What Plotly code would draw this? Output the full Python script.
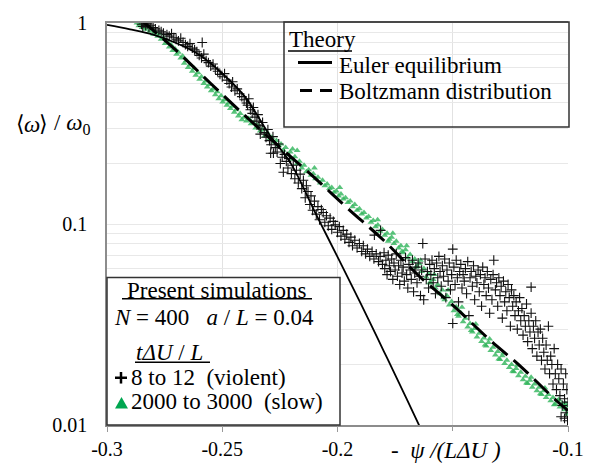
import plotly.graph_objects as go

# ---------------- data ----------------
euler_x = [-0.300, -0.290, -0.280, -0.270, -0.260, -0.250, -0.240, -0.230, -0.220,
           -0.210, -0.200, -0.190, -0.180, -0.170, -0.160]
euler_y = [0.978, 0.930, 0.875, 0.795, 0.695, 0.561, 0.428, 0.283, 0.198,
           0.116, 0.0686, 0.0404, 0.0234, 0.0135, 0.0077]

boltz_x = [-0.285, -0.270, -0.255, -0.240, -0.225, -0.210, -0.195, -0.180, -0.165,
           -0.150, -0.135, -0.120, -0.105, -0.100]
boltz_y = [1.03, 0.73, 0.50, 0.345, 0.241, 0.170, 0.118, 0.083, 0.0556,
           0.0395, 0.0272, 0.0193, 0.0132, 0.0118]

slow_points = [
    (-0.2870, 1.00), (-0.2862, 0.97), (-0.2855, 0.99), (-0.2848, 0.95), (-0.2840, 0.975), (-0.2832, 0.93),
    (-0.2825, 0.955), (-0.2815, 0.91), (-0.2805, 0.935), (-0.2798, 0.88), (-0.2790, 0.905), (-0.2780, 0.86),
    (-0.2772, 0.885), (-0.2765, 0.83), (-0.2755, 0.845), (-0.2748, 0.79), (-0.2740, 0.815), (-0.2730, 0.76),
    (-0.2722, 0.78), (-0.2715, 0.73), (-0.2705, 0.745), (-0.2698, 0.70), (-0.2690, 0.715), (-0.2680, 0.67),
    (-0.2672, 0.685), (-0.2665, 0.63), (-0.2655, 0.65), (-0.2648, 0.60), (-0.2640, 0.62), (-0.2630, 0.575),
    (-0.2622, 0.595), (-0.2615, 0.55), (-0.2605, 0.565), (-0.2598, 0.525), (-0.2590, 0.54), (-0.2580, 0.50),
    (-0.2572, 0.515), (-0.2565, 0.48), (-0.2555, 0.495), (-0.2548, 0.46), (-0.2540, 0.47), (-0.2530, 0.44),
    (-0.2522, 0.455), (-0.2515, 0.42), (-0.2505, 0.435), (-0.2498, 0.405), (-0.2490, 0.415), (-0.2480, 0.39),
    (-0.2472, 0.40), (-0.2465, 0.375), (-0.2455, 0.385), (-0.2448, 0.36), (-0.2440, 0.37), (-0.2430, 0.345),
    (-0.2422, 0.355), (-0.2415, 0.33), (-0.2405, 0.34),
    (-0.2395, 0.325), (-0.2385, 0.335), (-0.2375, 0.315), (-0.2365, 0.32), (-0.2355, 0.30), (-0.2345, 0.31),
    (-0.2335, 0.29), (-0.2325, 0.295), (-0.2315, 0.275), (-0.2305, 0.285), (-0.2295, 0.265), (-0.2285, 0.27),
    (-0.2275, 0.255), (-0.2265, 0.26), (-0.2255, 0.245), (-0.2245, 0.25), (-0.2235, 0.233), (-0.2225, 0.24),
    (-0.2215, 0.222), (-0.2205, 0.228), (-0.2195, 0.21), (-0.2185, 0.216), (-0.2175, 0.20), (-0.2165, 0.205),
    (-0.2155, 0.19), (-0.2145, 0.196), (-0.2135, 0.182), (-0.2125, 0.186), (-0.2115, 0.175), (-0.2105, 0.178),
    (-0.2095, 0.168), (-0.2085, 0.171), (-0.2075, 0.16), (-0.2065, 0.165), (-0.2055, 0.155), (-0.2045, 0.158),
    (-0.2035, 0.15), (-0.2025, 0.152), (-0.2015, 0.144), (-0.2005, 0.146), (-0.1995, 0.138), (-0.1985, 0.141),
    (-0.1975, 0.133), (-0.1965, 0.135), (-0.1955, 0.128), (-0.1945, 0.13), (-0.1935, 0.122), (-0.1925, 0.125),
    (-0.1915, 0.117), (-0.1905, 0.119), (-0.1895, 0.112), (-0.1885, 0.114), (-0.1875, 0.107), (-0.1865, 0.109),
    (-0.1855, 0.102), (-0.1845, 0.104), (-0.1835, 0.097), (-0.1825, 0.099), (-0.1815, 0.092), (-0.1805, 0.094),
    (-0.2175, 0.232), (-0.2195, 0.236), (-0.1990, 0.152), (-0.1826, 0.105), (-0.2100, 0.190),
    (-0.1795, 0.088), (-0.1785, 0.090), (-0.1775, 0.084), (-0.1765, 0.086), (-0.1755, 0.080), (-0.1745, 0.082),
    (-0.1735, 0.076), (-0.1725, 0.078), (-0.1715, 0.072), (-0.1705, 0.0745), (-0.1695, 0.068), (-0.1685, 0.0705),
    (-0.1675, 0.065), (-0.1665, 0.067), (-0.1655, 0.0615), (-0.1645, 0.0635), (-0.1635, 0.058), (-0.1625, 0.060),
    (-0.1615, 0.0545), (-0.1605, 0.0565), (-0.1595, 0.051), (-0.1585, 0.053), (-0.1575, 0.048), (-0.1565, 0.050),
    (-0.1555, 0.045), (-0.1545, 0.047), (-0.1535, 0.042), (-0.1525, 0.044), (-0.1515, 0.0395), (-0.1505, 0.0412),
    (-0.1495, 0.037), (-0.1485, 0.0388), (-0.1475, 0.0348), (-0.1465, 0.0362), (-0.1455, 0.0326), (-0.1445, 0.034),
    (-0.1435, 0.0307), (-0.1425, 0.032), (-0.1415, 0.029), (-0.1405, 0.0302), (-0.1395, 0.0274), (-0.1385, 0.0286),
    (-0.1375, 0.026), (-0.1365, 0.0271), (-0.1355, 0.0247), (-0.1345, 0.0257), (-0.1335, 0.0235), (-0.1325, 0.0244),
    (-0.1315, 0.0223), (-0.1305, 0.0232), (-0.1295, 0.0212), (-0.1285, 0.0221), (-0.1275, 0.0202), (-0.1265, 0.021),
    (-0.1255, 0.0193), (-0.1245, 0.0200), (-0.1235, 0.0184), (-0.1225, 0.0191), (-0.1215, 0.0176), (-0.1205, 0.0183),
    (-0.1195, 0.0168), (-0.1185, 0.0175), (-0.1175, 0.0161), (-0.1165, 0.0167), (-0.1155, 0.0154), (-0.1145, 0.016),
    (-0.1135, 0.0148), (-0.1125, 0.0154), (-0.1115, 0.0142), (-0.1105, 0.0148), (-0.1095, 0.0137), (-0.1085, 0.0142),
    (-0.1075, 0.0132), (-0.1065, 0.0137), (-0.1055, 0.0127), (-0.1045, 0.0132), (-0.1035, 0.0123), (-0.1025, 0.0128),
    (-0.1015, 0.0119), (-0.1005, 0.0124), (-0.1000, 0.0115),
    (-0.178, 0.082), (-0.176, 0.090), (-0.172, 0.073), (-0.170, 0.078), (-0.166, 0.061), (-0.164, 0.066),
    (-0.160, 0.051), (-0.158, 0.056), (-0.154, 0.043), (-0.152, 0.047), (-0.148, 0.0355), (-0.146, 0.0385),
    (-0.142, 0.0295), (-0.140, 0.0318), (-0.136, 0.0250), (-0.134, 0.0268), (-0.130, 0.0213), (-0.128, 0.0228),
    (-0.124, 0.0185), (-0.122, 0.0198), (-0.118, 0.0162), (-0.116, 0.0173), (-0.112, 0.0143), (-0.110, 0.0153),
    (-0.106, 0.0126), (-0.104, 0.0134), (-0.1005, 0.0113), (-0.1010, 0.0128),
]

violent_points = [
    (-0.2850, 0.985), (-0.2845, 0.96), (-0.2840, 1.0), (-0.2832, 0.97), (-0.2825, 0.99), (-0.2818, 0.955),
    (-0.2810, 0.975), (-0.2800, 0.95), (-0.2790, 0.935), (-0.2775, 0.92), (-0.2765, 0.905), (-0.2755, 0.89),
    (-0.2740, 0.875), (-0.2730, 0.86), (-0.2720, 0.885), (-0.2710, 0.845), (-0.2700, 0.83), (-0.2690, 0.815),
    (-0.2680, 0.84), (-0.2670, 0.80), (-0.2660, 0.78), (-0.2650, 0.765), (-0.2640, 0.79), (-0.2630, 0.75),
    (-0.2620, 0.735), (-0.2610, 0.72), (-0.2587, 0.80), (-0.2600, 0.69), (-0.2590, 0.67), (-0.2580, 0.70),
    (-0.2570, 0.65), (-0.2560, 0.635), (-0.2550, 0.61), (-0.2540, 0.625), (-0.2530, 0.59), (-0.2520, 0.575),
    (-0.2510, 0.555), (-0.2500, 0.54), (-0.2490, 0.56), (-0.2480, 0.52), (-0.2470, 0.50), (-0.2460, 0.48),
    (-0.2455, 0.51), (-0.2445, 0.46), (-0.2435, 0.47), (-0.2425, 0.445), (-0.2415, 0.43), (-0.2405, 0.415),
    (-0.2395, 0.40),
    (-0.2390, 0.39), (-0.2385, 0.42), (-0.2378, 0.37), (-0.2370, 0.355), (-0.2365, 0.38), (-0.2358, 0.34),
    (-0.2350, 0.325), (-0.2345, 0.35), (-0.2340, 0.31), (-0.2332, 0.297), (-0.2325, 0.32), (-0.2318, 0.285),
    (-0.2310, 0.27), (-0.2302, 0.295), (-0.2295, 0.26), (-0.2288, 0.248), (-0.2280, 0.272), (-0.2278, 0.225),
    (-0.2270, 0.24), (-0.2262, 0.228), (-0.2255, 0.25), (-0.2248, 0.20), (-0.2240, 0.215), (-0.2235, 0.181),
    (-0.2230, 0.222), (-0.2222, 0.205), (-0.2215, 0.19), (-0.2208, 0.212), (-0.2200, 0.178), (-0.2192, 0.196),
    (-0.2185, 0.168), (-0.2178, 0.185), (-0.2170, 0.16), (-0.2162, 0.177), (-0.2155, 0.15), (-0.2148, 0.165),
    (-0.2140, 0.135), (-0.2135, 0.155), (-0.2128, 0.145), (-0.2120, 0.125), (-0.2115, 0.138), (-0.2108, 0.117),
    (-0.2100, 0.13), (-0.2092, 0.112), (-0.2085, 0.122), (-0.2078, 0.105), (-0.2070, 0.118), (-0.2062, 0.114),
    (-0.2055, 0.102), (-0.2048, 0.11), (-0.2040, 0.098), (-0.2032, 0.107), (-0.2025, 0.094), (-0.2018, 0.103),
    (-0.2010, 0.099), (-0.2000, 0.091), (-0.1992, 0.097), (-0.1985, 0.087), (-0.1975, 0.093), (-0.1968, 0.084),
    (-0.1960, 0.089), (-0.1950, 0.081), (-0.1942, 0.086), (-0.1935, 0.078), (-0.1925, 0.083), (-0.1915, 0.076),
    (-0.1905, 0.080), (-0.1895, 0.073), (-0.1888, 0.078), (-0.1878, 0.071), (-0.1870, 0.075), (-0.1860, 0.069),
    (-0.1850, 0.073), (-0.1842, 0.067), (-0.1832, 0.071), (-0.1822, 0.065), (-0.1815, 0.069), (-0.1805, 0.063),
    (-0.2335, 0.28), (-0.2290, 0.225), (-0.1813, 0.093), (-0.1840, 0.088),
    (-0.1798, 0.072), (-0.1795, 0.060), (-0.1790, 0.066), (-0.1785, 0.056), (-0.1780, 0.070), (-0.1775, 0.062),
    (-0.1770, 0.058), (-0.1765, 0.067), (-0.1760, 0.053), (-0.1755, 0.064), (-0.1750, 0.059), (-0.1745, 0.071),
    (-0.1740, 0.055), (-0.1735, 0.062), (-0.1730, 0.050), (-0.1725, 0.066), (-0.1720, 0.057), (-0.1715, 0.061),
    (-0.1710, 0.052), (-0.1705, 0.068), (-0.1700, 0.056), (-0.1695, 0.048), (-0.1690, 0.063), (-0.1685, 0.059),
    (-0.1680, 0.053), (-0.1675, 0.066), (-0.1670, 0.046), (-0.1665, 0.057), (-0.1660, 0.061), (-0.1655, 0.051),
    (-0.1650, 0.064), (-0.1645, 0.055), (-0.1640, 0.044), (-0.1635, 0.059), (-0.1630, 0.080), (-0.1626, 0.042),
    (-0.1620, 0.067), (-0.1615, 0.053), (-0.1610, 0.058), (-0.1605, 0.048), (-0.1600, 0.063), (-0.1595, 0.056),
    (-0.1590, 0.066), (-0.1585, 0.051), (-0.1580, 0.060), (-0.1575, 0.045), (-0.1570, 0.064), (-0.1565, 0.054),
    (-0.1560, 0.069), (-0.1555, 0.058), (-0.1550, 0.049), (-0.1545, 0.062), (-0.1540, 0.055), (-0.1535, 0.067),
    (-0.1530, 0.043), (-0.1525, 0.059), (-0.1520, 0.052), (-0.1515, 0.064), (-0.1510, 0.047), (-0.1505, 0.056),
    (-0.1500, 0.075), (-0.1500, 0.032), (-0.1495, 0.061), (-0.1490, 0.050), (-0.1485, 0.066), (-0.1480, 0.054),
    (-0.1475, 0.041), (-0.1470, 0.058), (-0.1465, 0.063), (-0.1460, 0.048), (-0.1455, 0.056), (-0.1450, 0.052),
    (-0.1445, 0.060), (-0.1440, 0.045), (-0.1435, 0.065), (-0.1430, 0.035), (-0.1425, 0.054), (-0.1420, 0.058),
    (-0.1415, 0.049), (-0.1410, 0.062), (-0.1405, 0.042), (-0.1400, 0.055), (-0.1395, 0.051), (-0.1390, 0.059),
    (-0.1385, 0.046), (-0.1380, 0.056), (-0.1375, 0.039), (-0.1370, 0.061), (-0.1365, 0.050), (-0.1360, 0.054),
    (-0.1355, 0.044), (-0.1350, 0.058), (-0.1345, 0.048), (-0.1340, 0.036), (-0.1335, 0.053), (-0.1330, 0.042),
    (-0.1325, 0.056), (-0.1322, 0.066), (-0.1315, 0.047), (-0.1310, 0.051), (-0.1305, 0.039), (-0.1300, 0.054),
    (-0.1295, 0.044), (-0.1290, 0.049), (-0.1285, 0.034), (-0.1280, 0.052), (-0.1275, 0.041), (-0.1270, 0.046),
    (-0.1265, 0.037), (-0.1260, 0.050), (-0.1255, 0.043), (-0.1250, 0.031),
    (-0.1245, 0.047), (-0.1240, 0.039), (-0.1235, 0.044), (-0.1230, 0.035), (-0.1225, 0.041), (-0.1220, 0.030),
    (-0.1215, 0.037), (-0.1210, 0.043), (-0.1205, 0.033), (-0.1200, 0.038), (-0.1195, 0.028), (-0.1190, 0.035),
    (-0.1185, 0.031), (-0.1180, 0.040), (-0.1175, 0.026), (-0.1170, 0.033), (-0.1165, 0.029), (-0.1160, 0.0485),
    (-0.1160, 0.036), (-0.1155, 0.024), (-0.1150, 0.031), (-0.1145, 0.027), (-0.1140, 0.033), (-0.1135, 0.022),
    (-0.1130, 0.029), (-0.1125, 0.025), (-0.1120, 0.030), (-0.1115, 0.021), (-0.1110, 0.027), (-0.1105, 0.023),
    (-0.1100, 0.019), (-0.1095, 0.025), (-0.1090, 0.021), (-0.1085, 0.031), (-0.1080, 0.018), (-0.1075, 0.022),
    (-0.1070, 0.020), (-0.1065, 0.016), (-0.1060, 0.024), (-0.1055, 0.018), (-0.1050, 0.015), (-0.1045, 0.020),
    (-0.1040, 0.017), (-0.1035, 0.014), (-0.1030, 0.019), (-0.1025, 0.0125), (-0.1020, 0.016), (-0.1015, 0.0135),
    (-0.1010, 0.018), (-0.1008, 0.0115), (-0.1005, 0.015), (-0.1002, 0.0105), (-0.1000, 0.013),
    (-0.1030, 0.011), (-0.1015, 0.0108),
]

x_tickvals = [-0.3, -0.25, -0.2, -0.1]
x_ticktext = ["-0.3", "-0.25", "-0.2", "-0.1"]
x_grid_vals = [-0.3, -0.25, -0.2, -0.15, -0.1]
y_tickvals = [0.01, 0.1, 1]
y_ticktext = ["0.01", "0.1", "1"]
y_grid_vals = [0.02, 0.03, 0.04, 0.05, 0.06, 0.07, 0.08, 0.09, 0.1,
               0.2, 0.3, 0.4, 0.5, 0.6, 0.7, 0.8, 0.9]

# ---------------- layout geometry ----------------
W, H = 598, 472
L, R, T, B = 107, 30, 13, 42
PW, PH = W - L - R, H - T - B


def PX(x):
    return (x - L) / PW


def PY(y):
    return (H - B - y) / PH


SERIF = "Liberation Serif"
GREEN = "#2fb45a"

fig = go.Figure()

# helper trace only to carry the overlay grid axes (no visible marks)
fig.add_trace(go.Scatter(x=[None], y=[None], xaxis="x2", yaxis="y2", mode="markers",
                         showlegend=False, hoverinfo="skip"))

fig.add_trace(go.Scatter(
    x=[p[0] for p in slow_points], y=[p[1] for p in slow_points],
    mode="markers", name="2000 to 3000 (slow)",
    marker=dict(symbol="triangle-up", size=6, color=GREEN, opacity=0.8, line=dict(width=0)),
))
fig.add_trace(go.Scatter(
    x=[p[0] for p in violent_points], y=[p[1] for p in violent_points],
    mode="markers", name="8 to 12 (violent)",
    marker=dict(symbol="cross-thin", size=7, color="#111", line=dict(width=1.1, color="#111")),
))
fig.add_trace(go.Scatter(
    x=euler_x, y=euler_y, mode="lines", name="Euler equilibrium",
    line=dict(color="black", width=1.8, shape="spline"),
))
fig.add_trace(go.Scatter(
    x=boltz_x, y=boltz_y, mode="lines", name="Boltzmann distribution",
    line=dict(color="black", width=3, dash="20px,8px", shape="spline"),
))

fig.update_layout(
    width=W, height=H, margin=dict(l=L, r=R, t=T, b=B),
    paper_bgcolor="white", plot_bgcolor="white", showlegend=False,
    font=dict(family=SERIF, color="black"),
    xaxis=dict(
        range=[-0.3, -0.1], tickvals=x_tickvals, ticktext=x_ticktext,
        ticks="outside", ticklen=5, tickcolor="#999", tickwidth=1,
        showline=True, linecolor="#8c8c8c", linewidth=1.5, mirror=True,
        showgrid=False, zeroline=False,
        tickfont=dict(family=SERIF, size=20, color="black"),
    ),
    yaxis=dict(
        type="log", range=[-2, 0], tickvals=y_tickvals, ticktext=y_ticktext,
        ticks="outside", ticklen=14, tickcolor="rgba(0,0,0,0)",
        showline=True, linecolor="#8c8c8c", linewidth=1.5,
        showgrid=False, zeroline=False,
        tickfont=dict(family=SERIF, size=20, color="black"),
    ),
    xaxis2=dict(
        overlaying="x", range=[-0.3, -0.1], tickvals=x_grid_vals, showticklabels=False,
        ticks="outside", ticklen=5, tickcolor="#999", side="bottom",
        showgrid=True, gridcolor="#e2e2e2", zeroline=False, showline=False,
    ),
    yaxis2=dict(
        overlaying="y", type="log", range=[-2, 0], tickvals=y_grid_vals, showticklabels=False,
        ticks="", showgrid=True, gridcolor="#e8e8e8", zeroline=False, showline=False,
    ),
)

shapes = []
# Theory box
shapes.append(dict(type="rect", xref="paper", yref="paper", x0=PX(284), x1=PX(569), y0=PY(121), y1=PY(12),
                   line=dict(color="#333", width=1.5), layer="above"))
shapes.append(dict(type="line", xref="paper", yref="paper", x0=PX(288), x1=PX(352), y0=PY(42), y1=PY(42),
                   line=dict(color="black", width=1.5)))
shapes.append(dict(type="line", xref="paper", yref="paper", x0=PX(298), x1=PX(332), y0=PY(54), y1=PY(54),
                   line=dict(color="black", width=3)))
shapes.append(dict(type="line", xref="paper", yref="paper", x0=PX(300), x1=PX(333), y0=PY(83), y1=PY(83),
                   line=dict(color="black", width=3, dash="12px,8px")))
# Present simulations box
shapes.append(dict(type="rect", xref="paper", yref="paper", x0=PX(107), x1=PX(340), y0=PY(430), y1=PY(277),
                   line=dict(color="#333", width=1.5), fillcolor="white", layer="above"))
shapes.append(dict(type="line", xref="paper", yref="paper", x0=PX(122), x1=PX(312), y0=PY(299), y1=PY(299),
                   line=dict(color="black", width=1.5)))
shapes.append(dict(type="line", xref="paper", yref="paper", x0=PX(135), x1=PX(210), y0=PY(365), y1=PY(365),
                   line=dict(color="black", width=1.5)))
# plus symbol
shapes.append(dict(type="line", xref="paper", yref="paper", x0=PX(115), x1=PX(127), y0=PY(381), y1=PY(381),
                   line=dict(color="black", width=2.5)))
shapes.append(dict(type="line", xref="paper", yref="paper", x0=PX(121), x1=PX(121), y0=PY(375), y1=PY(387),
                   line=dict(color="black", width=2.5)))
# triangle symbol
tri = "M {a},{b} L {c},{b} L {d},{e} Z".format(a=PX(115), b=PY(413), c=PX(128), d=PX(121.5), e=PY(401))
shapes.append(dict(type="path", xref="paper", yref="paper", path=tri, fillcolor="#00a650",
                   line=dict(width=0), layer="above"))
fig.update_layout(shapes=shapes)


def ann(text, x, y, size=23, xanchor="left", color="black", family=SERIF):
    fig.add_annotation(text=text, xref="paper", yref="paper", x=PX(x), y=PY(y),
                       xanchor=xanchor, yanchor="middle", showarrow=False,
                       font=dict(family=family, size=size, color=color))


ann("Theory", 287, 30)
ann("Euler equilibrium", 337, 57)
ann("Boltzmann distribution", 337, 84)
ann("Present simulations", 217, 290, xanchor="center")
ann("<i>N</i> = 400\u00a0\u00a0\u00a0<i>a</i> / <i>L</i> = 0.04", 112, 318)
ann("<i>t\u0394U</i> / <i>L</i>", 134, 355)
ann("8 to 12\u00a0\u00a0(violent)", 129, 381)
ann("2000 to 3000\u00a0\u00a0(slow)", 129, 406)
# axis titles
ann("-\u00a0\u00a0<i>\u03c8</i> <i>/(L\u0394U\u00a0)</i>", 446, 456, xanchor="center")
# y title: brackets drawn in a font that has them, the rest in the serif font
ann("\u27e8", 14, 117, size=22, family="DejaVu Serif")
ann("<i>\u03c9</i>", 22, 118)
ann("\u27e9", 37, 117, size=22, family="DejaVu Serif")
ann("/\u00a0<i>\u03c9</i><sub>0</sub>", 52, 118)

fig.write_html("out.html")
